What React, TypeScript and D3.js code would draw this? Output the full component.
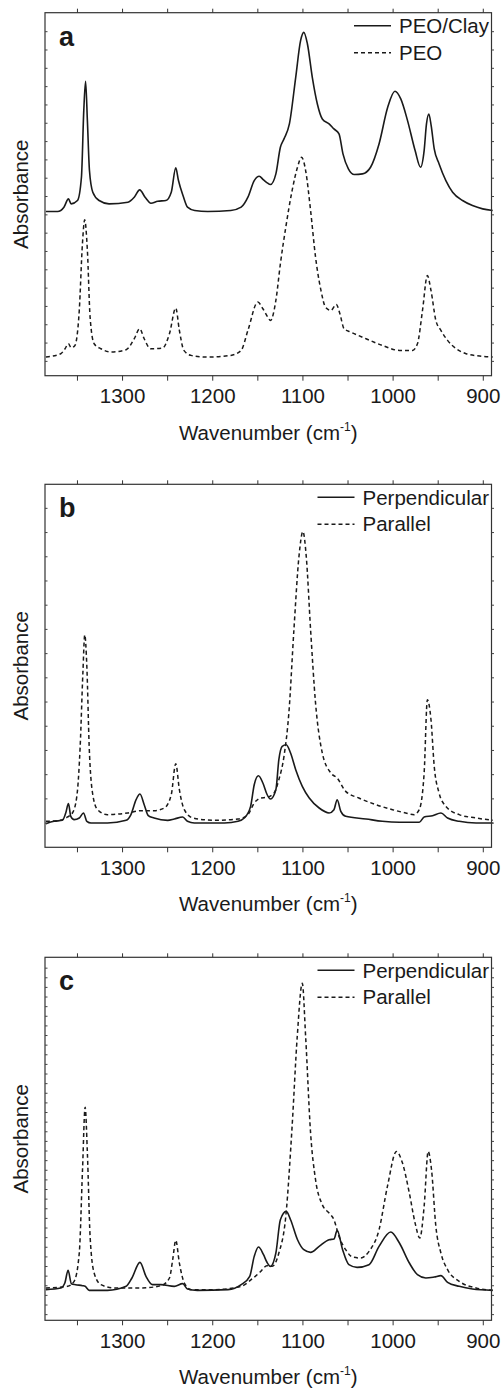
import * as React from "react";
import * as d3 from "d3";

// wavenumber (cm-1), absorbance (arb. units, 0..109 per panel)
const peoClay = [
  [1385, 49.3], [1372, 49.3], [1365, 50.6], [1360, 53.1], [1357, 51.6], [1350, 52.6],
  [1345.6, 59.6], [1343, 79.6], [1341, 88.4], [1339, 76.6], [1336.7, 61.6], [1333, 55.1],
  [1326, 52.6], [1315, 51.6], [1294, 52.1], [1287, 53.6], [1281, 55.8], [1275, 53.6],
  [1268.5, 51.8], [1261, 52.4], [1252, 52.6], [1246, 55.1], [1241, 62.4], [1238, 58.6],
  [1233, 54.1], [1228, 50.6], [1220, 49.6], [1205.6, 49.3], [1180, 49.6], [1168.5, 50.6],
  [1161, 53.6], [1154, 58.6], [1148.5, 59.9], [1143.7, 58.8], [1140, 58.0], [1136, 57.4],
  [1130, 60.6], [1125, 68.6], [1121, 71.1], [1115, 75.6], [1108, 89.6], [1102.6, 100.6],
  [1099, 103.1], [1095, 99.6], [1089.6, 89.6], [1084, 81.6], [1078.5, 77.1], [1071, 75.6],
  [1065.6, 74.1], [1060, 72.6], [1055.6, 66.6], [1049.6, 62.1], [1043, 60.4], [1034, 60.6],
  [1025, 62.6], [1015.6, 69.6], [1006, 80.6], [998, 85.4], [991.5, 83.1], [984, 76.6],
  [975.6, 67.6], [969.6, 62.6], [965.6, 67.6], [963, 75.6], [960.4, 78.6], [957.8, 75.1],
  [954.4, 68.1], [949, 63.6], [941.5, 58.6], [934, 55.1], [923, 52.6], [912, 51.1],
  [900.7, 50.1], [889.6, 49.6],
];

const peo = [
  [1385, 5.6], [1368.5, 6.6], [1364, 8.0], [1360, 9.6], [1357, 8.4], [1353, 9.0],
  [1348, 19.6], [1344.5, 39.6], [1342, 46.8], [1339, 37.6], [1336, 17.6], [1331.5, 9.6],
  [1324, 8.1], [1313, 7.1], [1296, 7.8], [1287, 11.1], [1281, 14.1], [1276, 11.1],
  [1269, 8.1], [1255.6, 8.3], [1248, 12.6], [1241, 20.3], [1237, 13.6], [1232, 7.6],
  [1224, 6.1], [1205.6, 5.6], [1180, 6.1], [1168.5, 7.6], [1161, 13.6], [1150, 22.1],
  [1144.4, 20.1], [1139, 17.6], [1136, 16.6], [1130, 22.6], [1125, 33.6], [1119, 44.6],
  [1112, 55.6], [1106, 62.6], [1101.5, 65.6], [1097, 61.6], [1091.5, 49.6], [1086, 35.6],
  [1080, 25.6], [1075, 20.6], [1069, 19.6], [1063, 21.4], [1059, 18.6], [1054.4, 14.1],
  [1047, 13.1], [1030, 11.1], [1012, 9.1], [993, 7.6], [978.5, 7.6], [973, 9.6],
  [967.4, 19.6], [962, 30.1], [958, 25.6], [952.6, 16.6], [947, 13.6], [939.6, 10.6],
  [930, 8.1], [919, 6.6], [904, 5.9], [889.6, 5.6],
];

const perpB = [
  [1385, 7.1], [1376, 7.8], [1366.7, 8.1], [1363, 10.3], [1360, 13.1], [1357.4, 9.3],
  [1353.7, 8.3], [1348, 8.8], [1343.3, 10.3], [1339.6, 7.8], [1335, 7.3], [1316.7, 7.3],
  [1296, 8.1], [1290.7, 9.8], [1285, 14.3], [1280.7, 16.0], [1276, 12.8], [1271.5, 9.5],
  [1265, 8.8], [1250, 8.1], [1242.6, 8.5], [1233.3, 9.1], [1228, 7.8], [1220.4, 7.3],
  [1187, 7.3], [1172, 7.8], [1165, 8.8], [1158, 12.3], [1154, 18.8], [1149.3, 21.5],
  [1144.4, 19.3], [1140, 16.0], [1136, 14.5], [1130, 17.3], [1126.7, 26.3], [1123, 30.3],
  [1118.5, 30.8], [1113.7, 28.3], [1108, 23.3], [1100.7, 18.3], [1093, 14.8], [1082, 11.8],
  [1071, 10.3], [1065.6, 11.3], [1062, 14.3], [1058, 10.8], [1052.6, 9.3], [1030, 8.5],
  [1012, 7.8], [993, 7.5], [971, 7.5], [965.6, 9.1], [956.3, 9.5], [947, 10.3],
  [939.6, 8.8], [926.7, 7.8], [908, 7.3], [889.6, 7.3],
];

const parB = [
  [1385, 7.8], [1370, 8.1], [1361, 9.1], [1355.6, 10.3], [1350.7, 15.3], [1347, 30.3],
  [1344, 52.3], [1341.9, 63.8], [1339.6, 54.3], [1337, 30.3], [1333.3, 16.3], [1327.8, 11.3],
  [1316.7, 9.8], [1294.4, 10.3], [1279.6, 11.0], [1265, 11.0], [1253.7, 11.8], [1246, 15.8],
  [1241, 25.1], [1237, 17.3], [1231.5, 11.3], [1222, 8.8], [1198, 8.1], [1172, 8.5],
  [1161, 9.8], [1154, 13.3], [1146.7, 14.8], [1140, 15.0], [1132, 16.3], [1126.7, 20.3],
  [1121, 27.3], [1115.6, 40.3], [1110, 65.3], [1104.4, 87.3], [1100, 94.8], [1096.3, 87.3],
  [1091.5, 65.3], [1086, 43.3], [1078.5, 28.3], [1069, 22.3], [1062, 20.8], [1052.6, 16.8],
  [1038, 14.8], [1019, 12.8], [1000.7, 11.3], [986, 10.3], [976.7, 9.8], [971, 11.3],
  [965.6, 22.3], [962, 44.3], [958, 38.3], [954.4, 24.3], [949, 16.3], [941.5, 12.3],
  [926.7, 9.8], [908, 8.8], [889.6, 8.1],
];

const perpC = [
  [1385, 9.2], [1368.5, 9.7], [1364, 11.2], [1360.4, 15.0], [1356.7, 11.0], [1352, 10.7],
  [1344.4, 10.4], [1341.5, 10.2], [1337, 9.0], [1316.7, 9.0], [1296, 10.2], [1289.6, 12.7],
  [1280.7, 17.4], [1274, 13.2], [1266.7, 10.7], [1257.4, 10.7], [1242.6, 10.2], [1233.3, 11.0],
  [1228, 9.4], [1217, 9.0], [1183, 9.2], [1168.5, 10.7], [1159, 13.2], [1154, 19.2],
  [1149.3, 22.0], [1143.7, 19.7], [1140, 17.5], [1136, 16.2], [1130, 20.2], [1125, 30.2],
  [1118.5, 32.7], [1113.7, 30.2], [1106, 24.2], [1099, 21.2], [1091.5, 20.4], [1082, 22.2],
  [1071, 24.2], [1065.6, 24.4], [1062, 27.0], [1056, 21.2], [1049, 16.7], [1040, 15.9],
  [1026.7, 16.7], [1015.6, 22.2], [1002.6, 26.5], [993, 23.2], [982, 17.2], [973, 13.7],
  [963.7, 12.7], [954.4, 13.0], [947, 13.4], [939.6, 11.4], [926.7, 10.2], [912, 9.4],
  [889.6, 9.0],
];

const parC = [
  [1385, 9.7], [1361, 10.2], [1353.7, 11.7], [1348, 20.2], [1344.4, 45.2], [1341.5, 64.0],
  [1339, 50.2], [1336, 25.2], [1331.5, 14.2], [1324, 10.7], [1309, 9.7], [1279.6, 9.7],
  [1257.4, 10.4], [1248, 12.7], [1244.4, 18.2], [1241, 24.0], [1237, 17.2], [1231.5, 11.2],
  [1224, 9.2], [1198, 9.2], [1168.5, 10.2], [1157.4, 12.2], [1146.7, 14.7], [1140, 16.4],
  [1134, 16.2], [1126.7, 20.2], [1119, 31.2], [1112, 58.2], [1106.3, 85.2], [1100.7, 101.2],
  [1097, 85.2], [1091.5, 56.2], [1086, 42.2], [1078.5, 34.7], [1071, 32.2], [1065.6, 30.2],
  [1060, 25.2], [1052.6, 21.2], [1045, 19.0], [1036, 18.7], [1026.7, 20.7], [1015.6, 27.2],
  [1006.3, 40.2], [996.3, 50.7], [989.6, 47.2], [982, 38.2], [975.6, 29.2], [970.4, 24.7],
  [965.6, 34.2], [961.1, 50.7], [957.4, 45.2], [952.6, 28.2], [947, 20.2], [939.6, 15.2],
  [926.7, 11.7], [908, 9.7], [889.6, 9.0],
];

const panelLabels = ["a", "b", "c"];
const legendLabels = [
  ["PEO/Clay", "PEO"],
  ["Perpendicular", "Parallel"],
  ["Perpendicular", "Parallel"],
];
const panelSeries = [
  [peoClay, peo],
  [perpB, parB],
  [perpC, parC],
];
const xMajorTicks = [1300, 1200, 1100, 1000, 900];
const xMinorTicks = [1350, 1300, 1250, 1200, 1150, 1100, 1050, 1000, 950, 900];
// unlabelled minor y ticks: [start, step]
const yTickSpec = [
  [4.3, 5.5],
  [7.27, 7.27],
  [1.7, 2.89],
];

const FONT = "'Liberation Sans', Arial, Helvetica, sans-serif";
const INK = "#1a1a1a";

const App = () => {
  const ref = React.useRef<SVGSVGElement>(null);

  React.useEffect(() => {
    const svg = d3.select(ref.current);
    svg.selectAll("*").remove();

    const left = 45;
    const right = 491.5;
    const height = 363;
    const tops = [12.7, 484.3, 957.3];

    const x = d3.scaleLinear().domain([1386, 890.9]).range([left, right]);

    tops.forEach((top, i) => {
      const bottom = top + height;
      const y = d3.scaleLinear().domain([0, 109]).range([bottom, top]);
      const g = svg.append("g").attr("class", `panel-${panelLabels[i]}`);

      const line = d3
        .line<number[]>()
        .x((d) => x(d[0]))
        .y((d) => y(d[1]))
        .curve(d3.curveMonotoneX);

      // curves: dashed underneath, solid on top
      const [solid, dashed] = panelSeries[i];
      g.append("path")
        .attr("d", line(dashed))
        .attr("fill", "none")
        .attr("stroke", INK)
        .attr("stroke-width", 1.5)
        .attr("stroke-dasharray", "4,3");
      g.append("path")
        .attr("d", line(solid))
        .attr("fill", "none")
        .attr("stroke", INK)
        .attr("stroke-width", 1.6);

      // frame
      g.append("rect")
        .attr("x", left)
        .attr("y", top)
        .attr("width", right - left)
        .attr("height", height)
        .attr("fill", "none")
        .attr("stroke", "#333")
        .attr("stroke-width", 1.2);

      // x ticks, outward on top and bottom
      g.selectAll(".xtick-b")
        .data(xMinorTicks)
        .enter()
        .append("line")
        .attr("x1", (d) => x(d))
        .attr("x2", (d) => x(d))
        .attr("y1", bottom)
        .attr("y2", bottom + 5)
        .attr("stroke", "#333");
      g.selectAll(".xtick-t")
        .data(xMinorTicks)
        .enter()
        .append("line")
        .attr("x1", (d) => x(d))
        .attr("x2", (d) => x(d))
        .attr("y1", top)
        .attr("y2", top - 4)
        .attr("stroke", "#333");

      // y minor ticks
      const [start, step] = yTickSpec[i];
      const yTicks = d3.range(start, 108.5, step);
      g.selectAll(".ytick-l")
        .data(yTicks)
        .enter()
        .append("line")
        .attr("x1", left)
        .attr("x2", left + 2.5)
        .attr("y1", (d) => y(d))
        .attr("y2", (d) => y(d))
        .attr("stroke", "#444");
      g.selectAll(".ytick-r")
        .data(yTicks)
        .enter()
        .append("line")
        .attr("x1", right)
        .attr("x2", right + 2.5)
        .attr("y1", (d) => y(d))
        .attr("y2", (d) => y(d))
        .attr("stroke", "#444");

      // tick labels
      g.selectAll(".xlabel")
        .data(xMajorTicks)
        .enter()
        .append("text")
        .attr("x", (d) => x(d))
        .attr("y", bottom + 27.5)
        .attr("text-anchor", "middle")
        .attr("font-family", FONT)
        .attr("font-size", 20.5)
        .attr("fill", INK)
        .text((d) => d);

      // x axis title
      const title = g
        .append("text")
        .attr("x", (left + right) / 2)
        .attr("y", bottom + 64)
        .attr("text-anchor", "middle")
        .attr("font-family", FONT)
        .attr("font-size", 20.5)
        .attr("fill", INK);
      title.append("tspan").text("Wavenumber (cm");
      title.append("tspan").attr("font-size", 12).attr("dy", -9).text("-1");
      title.append("tspan").attr("dy", 9).text(")");

      // y axis title
      g.append("text")
        .attr("transform", `translate(28,${top + height / 2}) rotate(-90)`)
        .attr("text-anchor", "middle")
        .attr("font-family", FONT)
        .attr("font-size", 20.5)
        .attr("fill", INK)
        .text("Absorbance");

      // panel letter
      g.append("text")
        .attr("x", 59)
        .attr("y", top + 33)
        .attr("font-family", FONT)
        .attr("font-weight", "bold")
        .attr("font-size", 27)
        .attr("fill", INK)
        .text(panelLabels[i]);

      // legend, right aligned against the frame
      const labels = legendLabels[i];
      const texts = labels.map((label, k) =>
        g
          .append("text")
          .attr("y", top + 20.5 + k * 26.5)
          .attr("font-family", FONT)
          .attr("font-size", 20.5)
          .attr("fill", INK)
          .text(label)
      );
      const maxWidth = d3.max(texts, (t) => (t.node() as SVGTextElement).getComputedTextLength()) || 0;
      const textX = 489 - maxWidth;
      texts.forEach((t, k) => {
        t.attr("x", textX);
        g.append("line")
          .attr("x1", textX - 45)
          .attr("x2", textX - 8)
          .attr("y1", top + 13 + k * 27)
          .attr("y2", top + 13 + k * 27)
          .attr("stroke", INK)
          .attr("stroke-width", 1.5)
          .attr("stroke-dasharray", k === 0 ? null : "4,3");
      });
    });
  }, []);

  return (
    <svg
      ref={ref}
      width={502}
      height={1389}
      style={{ position: "absolute", left: 0, top: 0, background: "#fff" }}
    />
  );
};

export default App;
